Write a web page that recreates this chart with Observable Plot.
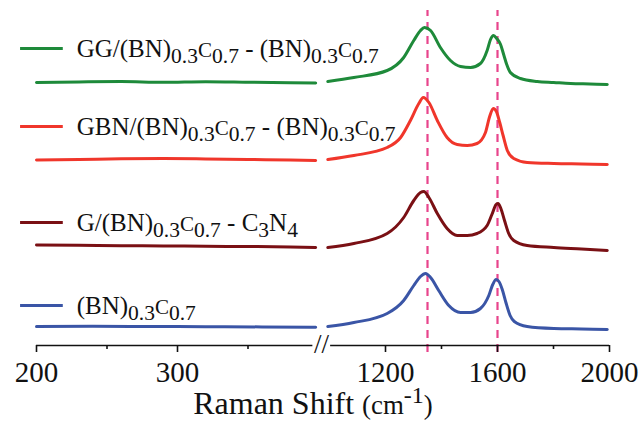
<!DOCTYPE html>
<html><head><meta charset="utf-8">
<script src="https://cdn.jsdelivr.net/npm/d3@7"></script>
<script src="https://cdn.jsdelivr.net/npm/@observablehq/plot@0.6"></script>
<style>body{margin:0;background:#fff;font-family:"Liberation Serif",serif}</style>
</head><body><div id="chart"></div>
<script>
// ---------- data ----------
const seriesNames = ["GG", "GBN", "G", "BNC"];
const seriesLabels = [
  "GG/(BN)_{0.3}~{C}_{0.7} - (BN)_{0.3}~{C}_{0.7}",
  "GBN/(BN)_{0.3}~{C}_{0.7} - (BN)_{0.3}~{C}_{0.7}",
  "G/(BN)_{0.3}~{C}_{0.7} - C_{3}N_{4}",
  "(BN)_{0.3}~{C}_{0.7}"
];
const seriesColors = ["#1e8a3a", "#f0362b", "#7a1014", "#3a55a6"];
const legendLevels = [296, 218, 122, 39];           // a.u. level of each legend entry
const peakLines = [1350, 1600];                      // D and G band markers (cm-1)
const majorTicks = [200, 300, 1200, 1600, 2000];
const minorTicks = [250, 350, 1400, 1800];

// low-wavenumber segment: [shift, intensity (a.u., offset-stacked)]
const ggLow  = [[200,262],[230,262.6],[260,263],[290,262.2],[320,262.8],[350,262.3],[380,261.8],[398,261.5]];
const gbnLow = [[200,184.5],[230,185],[260,185.8],[290,186],[320,185.6],[350,185],[380,184.6],[398,184]];
const gLow   = [[200,99.5],[230,99.2],[260,98.8],[290,98.6],[320,98.2],[350,98],[380,97.6],[398,97]];
const bncLow = [[200,18],[240,18.2],[280,18],[320,17.8],[360,17.6],[398,17.2]];

// high-wavenumber segment
const ggHigh = [[994,263],[1087,267],[1206,274],[1265,287],[1301,304],[1325,314],[1339,317],[1361,314],[1396,297],[1432,284],[1468,278],[1504,277],[1539,281],[1563,294],[1575,305],[1586,309],[1597,306],[1611,300],[1622,290],[1633,280],[1646,272],[1682,266],[1742,263],[1801,262],[1861,261],[1930,260.5],[1992,260]];
const gbnHigh = [[994,185],[1087,189],[1206,197],[1254,207],[1289,224],[1319,241],[1335,247],[1355,242],[1385,224],[1420,207],[1456,200],[1492,199],[1527,201],[1557,212],[1572,228],[1585,236],[1596,233],[1608,222],[1620,209],[1635,194],[1658,186],[1706,182],[1801,181],[1900,180.5],[1992,180]];
const gHigh = [[994,97],[1087,101],[1206,111],[1265,127],[1301,144],[1325,152],[1337,153],[1355,147],[1385,131],[1420,116],[1456,109],[1492,109],[1527,111],[1563,119],[1580,130],[1595,140],[1602,141],[1612,136],[1625,124],[1640,111],[1658,104],[1706,99],[1801,97],[1900,95.5],[1992,94]];
const bncHigh = [[994,18],[1087,22],[1206,31],[1265,44],[1301,59],[1325,68],[1343,71],[1361,67],[1390,54],[1426,39],[1468,32],[1504,32],[1539,36],[1569,49],[1583,60],[1595,65],[1605,63],[1617,55],[1630,42],[1645,29],[1660,23],[1706,18],[1801,16],[1900,15.5],[1992,15]];

// ---------- build table ----------
const segs = [[ggLow, ggHigh], [gbnLow, gbnHigh], [gLow, gHigh], [bncLow, bncHigh]];
const rows = [];
segs.forEach((pair, i) => pair.forEach((seg, j) => seg.forEach(([x, y]) =>
  rows.push({series: seriesNames[i], key: seriesNames[i] + j, x, y}))));
const legend = seriesNames.map((s, i) => ({series: s, label: seriesLabels[i], ly: legendLevels[i]}));

const axisLevel = -1;
const FONT = "Liberation Serif";

const chart = Plot.plot({
  width: 640, height: 426,
  marginTop: 0, marginBottom: 81, marginLeft: 36, marginRight: 31,
  style: {fontFamily: FONT, background: "#fff"},
  x: {type: "linear", domain: [200, 400, 980, 2000], range: [36, 318, 323.4, 609], axis: null},
  y: {domain: [-1, 344], range: [345, 0], axis: null},
  color: {domain: seriesNames, range: seriesColors},
  marks: [
    Plot.ruleX(peakLines, {x: d => d, y1: -8, y2: 334, stroke: "#e8448c", strokeWidth: 2.2, strokeDasharray: "8,6"}),
    Plot.line(rows, {x: "x", y: "y", z: "key", stroke: "series", strokeWidth: 3, curve: "monotone-x"}),
    Plot.ruleY([axisLevel], {x1: 200, x2: 396, stroke: "#111", strokeWidth: 1.6}),
    Plot.ruleY([axisLevel], {x1: 1004, x2: 2000, stroke: "#111", strokeWidth: 1.6}),
    Plot.text(["//"], {x: 400, y: axisLevel, dx: 3, dy: -1, text: d => d, fontSize: 27, fill: "#111"}),
    Plot.axisX({ticks: majorTicks, tickSize: 7, tickPadding: 9, fontSize: 29, label: null, tickFormat: d => String(d), stroke: "#111", strokeWidth: 1.6, fill: "#111"}),
    Plot.axisX({ticks: minorTicks, tickSize: 4, text: null, label: null, stroke: "#111", strokeWidth: 1.6}),
    Plot.ruleY(legend, {y: "ly", x1: 188.7, x2: 219, stroke: "series", strokeWidth: 2.8}),
    Plot.text(legend, {y: "ly", x: 228.5, text: "label", textAnchor: "start", fontSize: 25, fill: "#111"}),
    Plot.text(["Raman Shift ~{(cm}^{-1}~{)}"], {frameAnchor: "bottom", dx: -10, dy: 68, text: d => d, fontSize: 32, fill: "#111"})
  ]
});

// rich text: _{sub}, ^{sup}, ~{smaller}
function richify(svg) {
  svg.querySelectorAll("text").forEach(t => {
    const s = t.textContent;
    if (!/[_^~]\{/.test(s)) return;
    let fs = 16;
    for (let el = t; el && el !== svg; el = el.parentNode) {
      const a = el.getAttribute && el.getAttribute("font-size");
      if (a) { fs = parseFloat(a); break; }
    }
    t.textContent = "";
    const re = /([_^~])\{([^}]*)\}|([^_^~]+)/g;
    let m, off = 0;
    while ((m = re.exec(s))) {
      const ts = document.createElementNS("http://www.w3.org/2000/svg", "tspan");
      let target = 0, size = null;
      if (m[1] === "_") { target = 0.27 * fs; size = 0.86 * fs; }
      else if (m[1] === "^") { target = -0.33 * fs; size = 0.75 * fs; }
      else if (m[1] === "~") { size = 0.84 * fs; }
      ts.textContent = m[1] ? m[2] : m[3];
      if (size) ts.setAttribute("font-size", size);
      if (target !== off) { ts.setAttribute("dy", target - off); off = target; }
      t.appendChild(ts);
    }
  });
}
richify(chart);
document.getElementById("chart").appendChild(chart);
</script>
</body></html>
